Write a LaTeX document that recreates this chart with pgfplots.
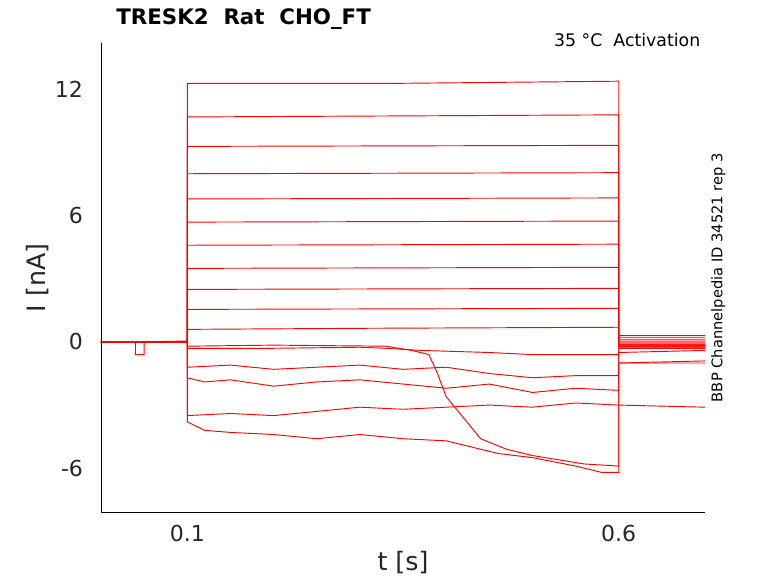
\documentclass[border=0pt]{standalone}
\usepackage{pgfplots}
\pgfplotsset{compat=1.18}
\usepackage{fontspec}
\setmainfont{DejaVu Sans}
\pgfplotsset{tr/.style={red, line width=0.7pt, mark=none, solid}}
\begin{document}
\begin{tikzpicture}
\useasboundingbox (-75.75pt,-53.25pt) rectangle (507.75pt,384.25pt);
\begin{axis}[at={(0,0)},anchor=south west,scale only axis,
 width=453pt,height=351.75pt,
 xmin=0,xmax=0.7,ymin=-8.1,ymax=14.2,
 axis x line*=bottom, axis y line*=left,
 xtick={0.1,0.6}, xticklabels={0.1,0.6},
 ytick={-6,0,6,12}, yticklabels={-6,0,6,12},
 tick style={draw=none},
 ticklabel style={font=\fontsize{16.5}{18}\selectfont, text=black!85},
 yticklabel style={xshift=-10pt},
 xticklabel style={yshift=-6pt},
 xlabel={t [s]}, ylabel={I [nA]},
 label style={font=\fontsize{19}{21}\selectfont, text=black!85},
 xlabel style={yshift=0pt}, ylabel style={yshift=-2pt},
 clip=false]
\addplot[tr] coordinates {(0,0)(0.04,0)(0.04,-0.6)(0.05,-0.6)(0.05,0)(0.1,0.05)(0.1,12.3)(0.35,12.3)(0.6,12.4)(0.6,0.3)(0.7,0.3)};
\addplot[tr] coordinates {(0,0)(0.1,0)(0.1,10.7)(0.6,10.8)(0.6,0.2)(0.7,0.2)};
\addplot[tr] coordinates {(0,0)(0.1,0)(0.1,9.3)(0.6,9.35)(0.6,0.1)(0.7,0.1)};
\addplot[tr] coordinates {(0,0)(0.1,0)(0.1,8.0)(0.6,8.05)(0.6,0.0)(0.7,0.0)};
\addplot[tr] coordinates {(0,0)(0.1,0)(0.1,6.8)(0.6,6.85)(0.6,-0.1)(0.7,-0.1)};
\addplot[tr] coordinates {(0,0)(0.1,0)(0.1,5.7)(0.6,5.75)(0.6,-0.1)(0.7,-0.1)};
\addplot[tr] coordinates {(0,0)(0.1,0)(0.1,4.6)(0.6,4.65)(0.6,-0.15)(0.7,-0.15)};
\addplot[tr] coordinates {(0,0)(0.1,0)(0.1,3.5)(0.6,3.55)(0.6,-0.2)(0.7,-0.2)};
\addplot[tr] coordinates {(0,0)(0.1,0)(0.1,2.5)(0.6,2.55)(0.6,-0.2)(0.7,-0.2)};
\addplot[tr] coordinates {(0,0)(0.1,0)(0.1,1.55)(0.6,1.6)(0.6,-0.2)(0.7,-0.2)};
\addplot[tr] coordinates {(0,0)(0.1,0)(0.1,0.6)(0.3,0.65)(0.6,0.7)(0.6,-0.25)(0.7,-0.25)};
\addplot[tr] coordinates {(0,0)(0.1,0)(0.1,-0.2)(0.2,-0.15)(0.33,-0.2)(0.36,-0.4)(0.38,-0.6)(0.39,-1.5)(0.4,-2.6)(0.42,-3.6)(0.44,-4.6)(0.47,-5.1)(0.5,-5.4)(0.53,-5.6)(0.56,-5.8)(0.6,-5.9)(0.6,-0.3)(0.7,-0.3)};
\addplot[tr] coordinates {(0,0)(0.1,0)(0.1,-0.3)(0.2,-0.3)(0.3,-0.25)(0.33,-0.3)(0.37,-0.4)(0.45,-0.5)(0.5,-0.6)(0.6,-0.6)(0.6,-0.5)(0.7,-0.4)};
\addplot[tr] coordinates {(0,0)(0.1,0)(0.1,-1.2)(0.15,-1.1)(0.2,-1.3)(0.25,-1.2)(0.3,-1.1)(0.35,-1.3)(0.4,-1.2)(0.45,-1.5)(0.5,-1.7)(0.55,-1.6)(0.6,-1.6)(0.6,-1.0)(0.7,-0.9)};
\addplot[tr] coordinates {(0,0)(0.1,0)(0.1,-1.7)(0.12,-1.9)(0.15,-1.8)(0.2,-2.1)(0.25,-1.9)(0.3,-1.8)(0.35,-2.0)(0.4,-2.2)(0.45,-2.0)(0.5,-2.4)(0.55,-2.2)(0.6,-2.3)(0.6,-1.0)(0.7,-1.0)};
\addplot[tr] coordinates {(0,0)(0.1,0)(0.1,-3.5)(0.15,-3.4)(0.2,-3.5)(0.25,-3.3)(0.3,-3.1)(0.35,-3.2)(0.4,-3.1)(0.45,-3.0)(0.5,-3.1)(0.55,-2.9)(0.6,-3.0)(0.6,-3.0)(0.7,-3.1)};
\addplot[tr] coordinates {(0,0)(0.1,0)(0.1,-3.8)(0.12,-4.2)(0.15,-4.3)(0.2,-4.4)(0.25,-4.6)(0.3,-4.4)(0.35,-4.6)(0.4,-4.7)(0.43,-5.0)(0.46,-5.3)(0.5,-5.5)(0.55,-5.9)(0.58,-6.2)(0.6,-6.2)(0.6,0.0)(0.7,0.0)};
\end{axis}
\node[anchor=west,font=\bfseries\fontsize{16}{18}\selectfont] at (8pt,370pt) {TRESK2\ \ Rat\ \ CHO\_FT};
\node[anchor=east,font=\fontsize{13}{15}\selectfont] at (453pt,354pt) {35 °C\ \ Activation};
\node[rotate=90,font=\fontsize{11}{13}\selectfont] at (463pt,176pt) {BBP Channelpedia ID 34521 rep 3};
\end{tikzpicture}
\end{document}
